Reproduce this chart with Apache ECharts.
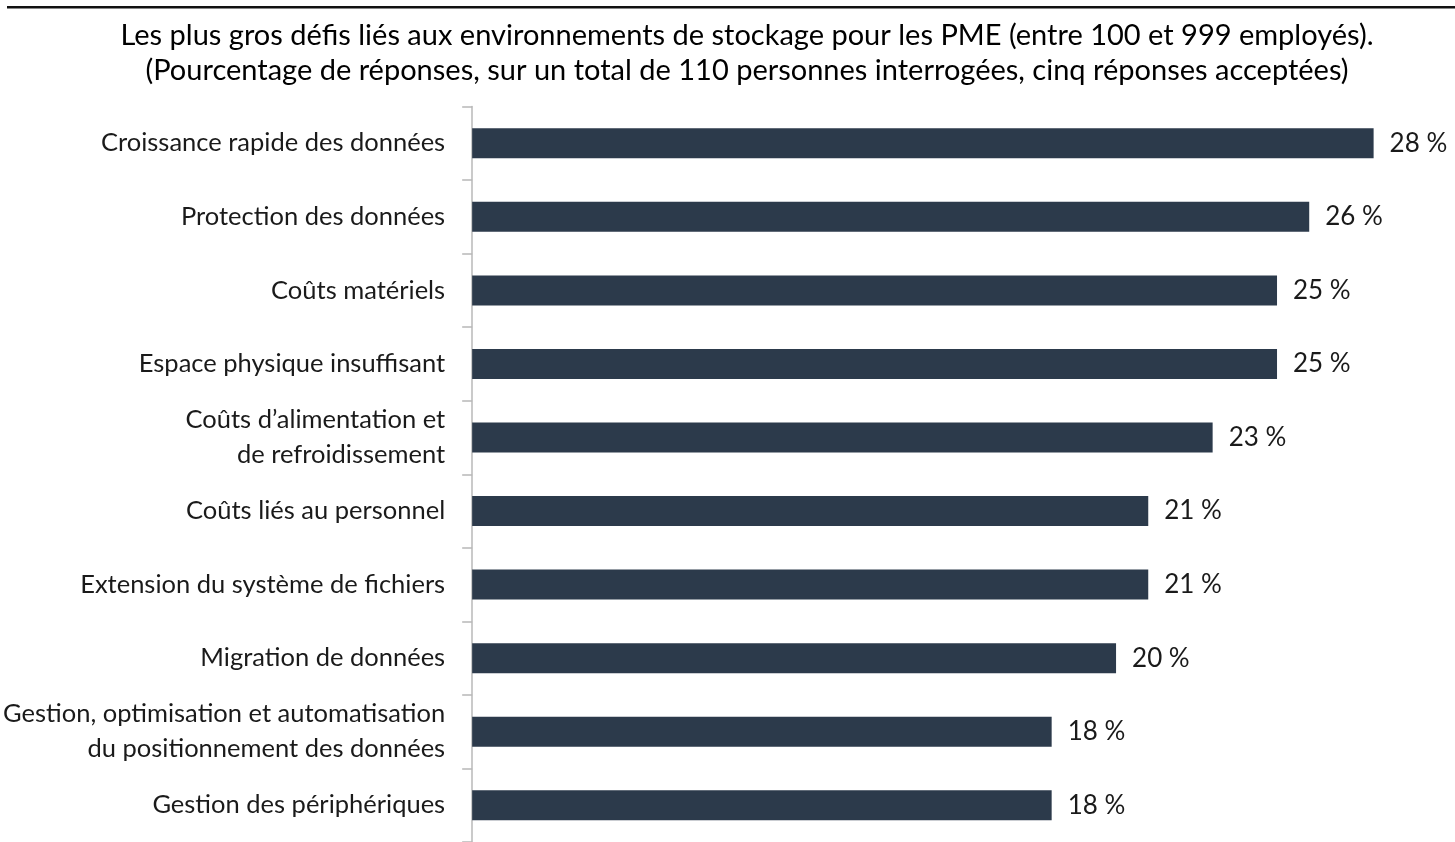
<!DOCTYPE html>
<html><head><meta charset="utf-8">
<script src="https://cdn.jsdelivr.net/npm/echarts@6/dist/echarts.min.js"></script>
<style>html,body{margin:0;padding:0;background:#fff}#c{width:1455px;height:842px}</style>
</head><body><div id="c"></div>
<script>
const titleLines = [
  "Les plus gros défis liés aux environnements de stockage pour les PME (entre 100 et 999 employés).",
  "(Pourcentage de réponses, sur un total de 110 personnes interrogées, cinq réponses acceptées)"
];
const categories = [
  "Croissance rapide des données",
  "Protection des données",
  "Coûts matériels",
  "Espace physique insuffisant",
  "Coûts d’alimentation et\nde refroidissement",
  "Coûts liés au personnel",
  "Extension du système de fichiers",
  "Migration de données",
  "Gestion, optimisation et automatisation\ndu positionnement des données",
  "Gestion des périphériques"
];
const values = [28, 26, 25, 25, 23, 21, 21, 20, 18, 18];

const FONT = "Lato";
const chart = echarts.init(document.getElementById('c'), null, {renderer: 'canvas'});
chart.setOption({
  animation: false,
  backgroundColor: '#fff',
  title: {
    text: titleLines.join('\n'),
    left: 742, top: 13, textAlign: 'center',
    textStyle: {fontFamily: FONT, fontSize: 29, fontWeight: 'normal', color: '#000', lineHeight: 35}
  },
  graphic: [{
    type: 'rect', shape: {x: 7, y: 6, width: 1448, height: 2.5},
    style: {fill: '#111'}, silent: true
  }],
  grid: {left: 472, right: 17, top: 106.5, bottom: -8.5, containLabel: false},
  xAxis: {type: 'value', min: 0, max: 30, show: false},
  yAxis: {
    type: 'category', data: categories, inverse: true,
    axisLine: {show: true, lineStyle: {color: '#b8b8b8', width: 1.5}},
    axisTick: {show: true, length: 10, lineStyle: {color: '#b8b8b8', width: 1.5}},
    axisLabel: {margin: 27, fontFamily: FONT, fontSize: 25.5, color: '#1a1a1a', lineHeight: 35, align: 'right'}
  },
  series: [{
    type: 'bar', data: values, barWidth: 30,
    itemStyle: {color: '#2c3a4b'},
    label: {show: true, position: 'right', distance: 16, formatter: '{c} %',
      fontFamily: FONT, fontSize: 26, color: '#1a1a1a'}
  }]
});
</script></body></html>
